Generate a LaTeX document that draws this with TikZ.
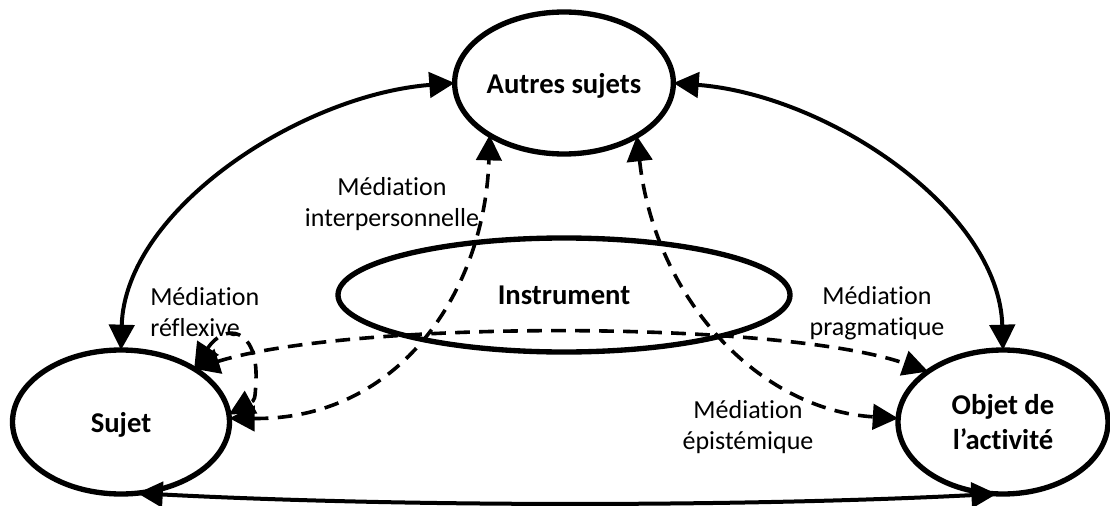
\documentclass[tikz,border=0pt]{standalone}
\usepackage{fontspec}
\setmainfont{Carlito}[Ligatures={NoCommon,NoContextual},Contextuals=NoAlternate]
\usetikzlibrary{shapes.geometric,arrows.meta}

\begin{document}
\begin{tikzpicture}[x=0.75pt,y=0.75pt,yscale=-1,xscale=1,
  pole/.style={draw,ellipse,line width=4pt,inner sep=0pt,outer sep=0pt,align=center,text depth=0pt,font=\fontsize{21.5}{26}\selectfont\bfseries},
  link/.style={line width=3pt,{Triangle[length=19pt,width=19pt]}-{Triangle[length=19pt,width=19pt]}},
  mediation/.style={link,line width=2.7pt,dash pattern=on 11pt off 7pt},
  legend/.style={inner sep=0pt,font=\fontsize{19.5}{23}\selectfont}]
\useasboundingbox (0,0) rectangle (1110,506);

%Shape: Ellipse
\node[pole,minimum width=163.5pt,minimum height=106.5pt] (autres) at (564,83) {Autres sujets};
\node[pole,minimum width=339pt,minimum height=85.5pt] (instrument) at (564,295) {Instrument};
\node[pole,minimum width=162.75pt,minimum height=108pt] (sujet) at (121,422) {Sujet};
\node[pole,minimum width=157.5pt,minimum height=108pt] (objet) at (1003,422) {Objet de\\l’activité};

%Curve Lines
\draw[link] (sujet.north) .. controls (125,210) and (300,95) .. (autres.west);
\draw[link] (autres.east) .. controls (828,95) and (999,210) .. (objet.north);
\draw[link] (sujet.-77) .. controls (400,507) and (740,507) .. (objet.-95);

%Dashed Curves
\draw[mediation] (sujet.36) .. controls (350,320) and (780,320) .. (objet.146);
\draw[mediation] (sujet.2) .. controls (400,420) and (485,290) .. (autres.215);
\draw[mediation] (autres.-36) .. controls (655,300) and (760,410) .. (objet.178);
\draw[mediation] (sujet.36) .. controls (225,322) and (258,328) .. (256,380) .. controls (255,400) .. (sujet.4);

% Text Node
\node[legend,align=center] (interpersonnelle) at (392,204) {Médiation\\interpersonnelle};
% Text Node
\node[legend,align=left,anchor=west] (reflexive) at (150,312) {Médiation\\réflexive};
% Text Node
\node[legend,align=center] (pragmatique) at (877,313) {Médiation\\pragmatique};
% Text Node
\node[legend,align=center] (epistemique) at (748,427) {Médiation\\épistémique};

\end{tikzpicture}
\end{document}
